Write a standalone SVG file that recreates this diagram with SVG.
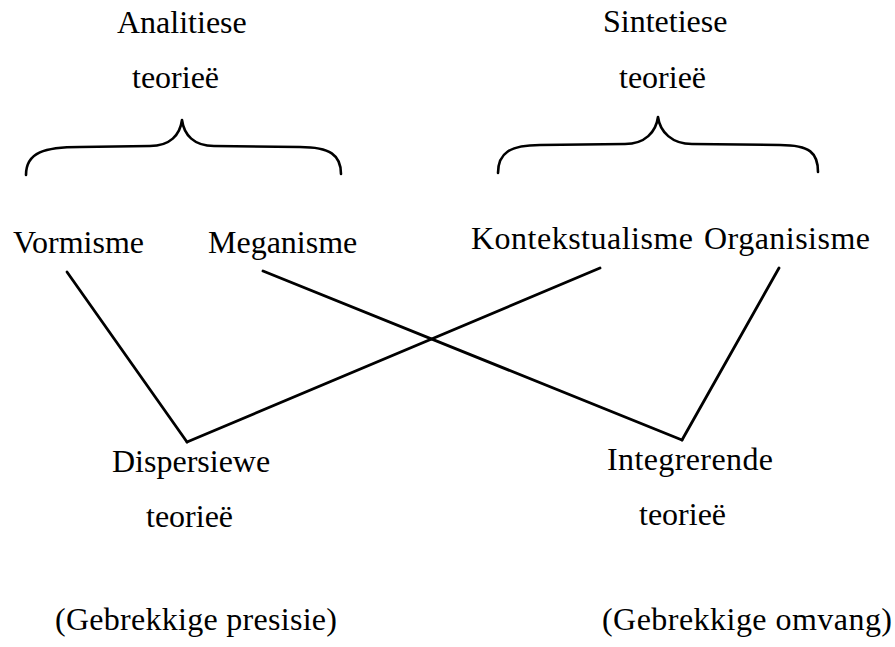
<svg xmlns="http://www.w3.org/2000/svg" width="895" height="647" viewBox="0 0 895 647">
  <style>
    text { font-family: "Liberation Serif", "Times New Roman", serif; font-size: 32px; fill: #000; }
    .edge { stroke: #000; stroke-width: 2.8; fill: none; stroke-linecap: round; }
    .brace { stroke: #000; stroke-width: 2.6; fill: none; stroke-linecap: round; stroke-linejoin: round; }
  </style>
  <rect width="895" height="647" fill="#fff"/>

  <!-- group headings with their braces -->
  <g id="analitiese">
    <text x="117" y="33">Analitiese</text>
    <text x="132" y="88">teorieë</text>
    <path class="brace" d="M26,175 C26,152 45,147 80,147 L150,146 C170,146 180,135 182,120 C184,135 194,146 214,146 L300,147 C330,147 341,155 341,174"/>
  </g>
  <g id="sintetiese">
    <text x="603" y="32">Sintetiese</text>
    <text x="619" y="88">teorieë</text>
    <path class="brace" d="M498,173 C498,153 510,145 540,145 L625,144 C645,144 656,132 658,117 C660,132 672,144 692,144 L780,145 C810,145 818,153 818,172"/>
  </g>

  <!-- world hypotheses -->
  <g id="vormisme"><text x="13" y="253">Vormisme</text></g>
  <g id="meganisme"><text x="208" y="253">Meganisme</text></g>
  <g id="kontekstualisme"><text x="471" y="249" textLength="222" lengthAdjust="spacing">Kontekstualisme</text></g>
  <g id="organisisme"><text x="704" y="249" textLength="166" lengthAdjust="spacing">Organisisme</text></g>

  <!-- resulting theory types -->
  <g id="dispersiewe">
    <text x="112" y="472">Dispersiewe</text>
    <text x="146" y="527">teorieë</text>
    <text x="55" y="630" textLength="282" lengthAdjust="spacing">(Gebrekkige presisie)</text>
  </g>
  <g id="integrerende">
    <text x="607" y="470" textLength="166" lengthAdjust="spacing">Integrerende</text>
    <text x="639" y="525">teorieë</text>
    <text x="602" y="630" textLength="290" lengthAdjust="spacing">(Gebrekkige omvang)</text>
  </g>

  <!-- connectors -->
  <g id="connectors">
    <line class="edge" x1="67" y1="272" x2="187" y2="442"/>
    <line class="edge" x1="187" y1="442" x2="600" y2="268"/>
    <line class="edge" x1="263" y1="271" x2="682" y2="440"/>
    <line class="edge" x1="779" y1="268" x2="682" y2="440"/>
  </g>
</svg>
